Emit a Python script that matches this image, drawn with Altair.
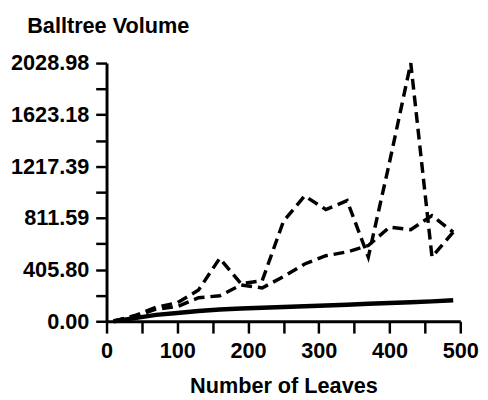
import altair as alt
import pandas as pd

# ---- data ----
leaves = [10, 40, 70, 100, 130, 160, 190, 220, 250, 280, 310, 340, 370, 400, 430, 460, 490]
solid_vol = [0, 25, 50, 65, 80, 92, 100, 106, 112, 118, 124, 130, 137, 143, 150, 156, 165]
dashed_vol = [0, 40, 95, 115, 185, 200, 285, 262, 350, 450, 515, 545, 595, 740, 720, 830, 700]
spiky_vol = [0, 45, 110, 145, 245, 495, 295, 318, 785, 985, 878, 948, 505, 1250, 2028.98, 505, 700]

x_ticks = [0, 50, 100, 150, 200, 250, 300, 350, 400, 450, 500]
y_ticks = [0, 202.898, 405.796, 608.694, 811.592, 1014.49, 1217.388,
           1420.286, 1623.184, 1826.082, 2028.98]
y_max = 2028.98

FONT = "Liberation Sans"

df_solid = pd.DataFrame({"leaves": leaves, "vol": solid_vol})
df_dashed = pd.DataFrame({"leaves": leaves, "vol": dashed_vol})
df_spiky = pd.DataFrame({"leaves": leaves, "vol": spiky_vol})

x_axis = alt.Axis(
    values=x_ticks,
    format="d",
    labelExpr="datum.value % 100 == 0 ? datum.label : ''",
    grid=False,
    tickSize=12, tickWidth=2.5, tickColor="black",
    domainWidth=3, domainColor="black",
    labelFont=FONT, labelFontSize=22, labelFontWeight="bold", labelColor="black",
    labelPadding=8, labelFlush=False, labelOverlap=False,
    title="Number of Leaves",
    titleFont=FONT, titleFontSize=22, titleFontWeight="bold", titleColor="black",
    titleX=179.5, titleY=72, titleBaseline="alphabetic", titleAlign="center",
)

y_axis = alt.Axis(
    values=y_ticks,
    labelExpr="round(datum.index * 10) % 2 == 0 ? format(datum.value, '.2f') : ''",
    grid=False,
    tickSize=11, tickWidth=2.5, tickColor="black",
    domainWidth=3, domainColor="black",
    labelFont=FONT, labelFontSize=22, labelFontWeight="bold", labelColor="black",
    labelPadding=7, labelFlush=False, labelOverlap=False,
    title="Balltree Volume",
    titleFont=FONT, titleFontSize=22, titleFontWeight="bold", titleColor="black",
    titleAngle=0, titleX=-81, titleY=-31, titleAlign="left", titleBaseline="alphabetic",
)

x_enc = alt.X("leaves:Q", scale=alt.Scale(domain=[0, 500], nice=False, zero=True), axis=x_axis)
y_enc = alt.Y("vol:Q", scale=alt.Scale(domain=[0, y_max], nice=False, zero=True), axis=y_axis)

solid = alt.Chart(df_solid).mark_line(color="black", strokeWidth=4.5).encode(x=x_enc, y=y_enc)
dashed = alt.Chart(df_dashed).mark_line(
    color="black", strokeWidth=3.5, strokeDash=[11, 6], strokeCap="butt"
).encode(x=x_enc, y=y_enc)
spiky = alt.Chart(df_spiky).mark_line(
    color="black", strokeWidth=3.5, strokeDash=[11, 6], strokeCap="butt"
).encode(x=x_enc, y=y_enc)

chart = alt.layer(solid, dashed, spiky).properties(
    width=359,
    height=262,
    autosize=alt.AutoSizeParams(type="none"),
    padding={"left": 100, "top": 53, "right": 20, "bottom": 76},
    background="white",
).configure_view(stroke=None)

chart.save("out.html", embed_options={"renderer": "svg", "actions": False})
